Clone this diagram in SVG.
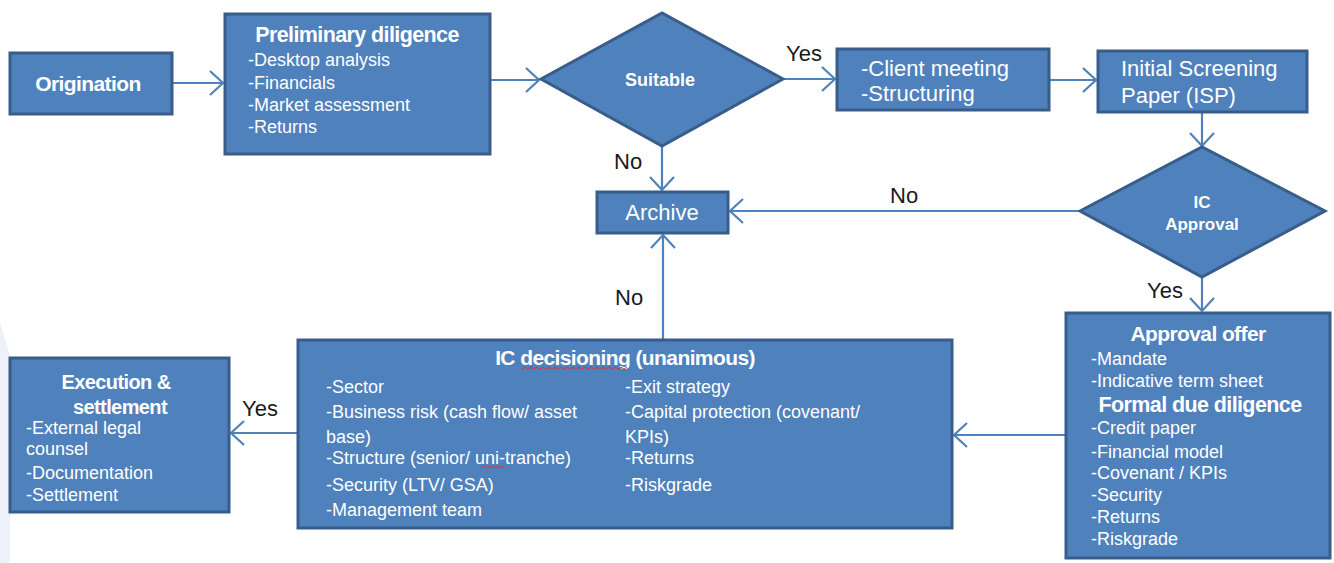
<svg xmlns="http://www.w3.org/2000/svg" width="1334" height="563" viewBox="0 0 1334 563">
<defs>
<style>
.box{fill:#4f81bd;stroke:#385d8a;stroke-width:3}
.t{font-family:"Liberation Sans",Arial,sans-serif;fill:#ffffff}
.h{font-weight:bold;letter-spacing:-0.6px}
.i{font-size:18px}
.lab{font-family:"Liberation Sans",Arial,sans-serif;font-size:22px;fill:#1a1a1a}
.c{fill:none;stroke:#4f81bd;stroke-width:2.2}
.sq{fill:none;stroke:#e03030;stroke-width:1}
</style>
<marker id="ah" markerUnits="userSpaceOnUse" markerWidth="18" markerHeight="28" refX="15" refY="14" orient="auto">
<path d="M2,2 L15,14 L2,26" fill="none" stroke="#4f81bd" stroke-width="2.2"/>
</marker>
</defs>
<rect width="1334" height="563" fill="#ffffff"/>
<polygon points="0,322 10,356 10,563 0,563" fill="#eef1f9"/>

<g id="connectors">
<line class="c" x1="172" y1="83" x2="223" y2="83" marker-end="url(#ah)"/>
<line class="c" x1="490" y1="80" x2="539" y2="80" marker-end="url(#ah)"/>
<line class="c" x1="783" y1="79" x2="835" y2="79" marker-end="url(#ah)"/>
<line class="c" x1="1049" y1="80" x2="1096" y2="80" marker-end="url(#ah)"/>
<line class="c" x1="1202" y1="112" x2="1202" y2="146" marker-end="url(#ah)"/>
<line class="c" x1="662" y1="146" x2="662" y2="190" marker-end="url(#ah)"/>
<line class="c" x1="1080" y1="211" x2="730" y2="211" marker-end="url(#ah)"/>
<line class="c" x1="1202" y1="277" x2="1202" y2="311" marker-end="url(#ah)"/>
<line class="c" x1="1066" y1="435" x2="954" y2="435" marker-end="url(#ah)"/>
<line class="c" x1="663" y1="340" x2="663" y2="235" marker-end="url(#ah)"/>
<line class="c" x1="298" y1="433" x2="231" y2="433" marker-end="url(#ah)"/>
<text class="lab" x="786" y="61">Yes</text>
<text class="lab" x="614" y="169">No</text>
<text class="lab" x="890" y="203">No</text>
<text class="lab" x="1147" y="298">Yes</text>
<text class="lab" x="615" y="305">No</text>
<text class="lab" x="242" y="416">Yes</text>
</g>

<g id="origination">
<rect class="box" x="10" y="53" width="162" height="61"/>
<text class="t h" x="88" y="91" font-size="21" text-anchor="middle">Origination</text>
</g>

<g id="preliminary">
<rect class="box" x="225" y="14" width="265" height="140"/>
<text class="t h" x="357" y="42" font-size="21.5" text-anchor="middle">Preliminary diligence</text>
<text class="t i" x="248" y="66">-Desktop analysis</text>
<text class="t i" x="248" y="89">-Financials</text>
<text class="t i" x="248" y="111">-Market assessment</text>
<text class="t i" x="248" y="133">-Returns</text>
</g>

<g id="suitable">
<polygon class="box" points="541,79 662,13 783,79 662,146"/>
<text class="t" x="660" y="86" font-size="18" font-weight="bold" text-anchor="middle">Suitable</text>
</g>

<g id="client">
<rect class="box" x="837" y="49" width="212" height="61"/>
<text class="t" x="861" y="76" font-size="22">-Client meeting</text>
<text class="t" x="861" y="101" font-size="22">-Structuring</text>
</g>

<g id="isp">
<rect class="box" x="1098" y="51" width="209" height="61"/>
<text class="t" x="1121" y="76" font-size="22">Initial Screening</text>
<text class="t" x="1121" y="103" font-size="22">Paper (ISP)</text>
</g>

<g id="ic-approval">
<polygon class="box" points="1080,211 1202,147 1325,211 1202,277"/>
<text class="t" x="1202" y="208" font-size="17" font-weight="bold" text-anchor="middle">IC</text>
<text class="t" x="1202" y="230" font-size="17" font-weight="bold" text-anchor="middle">Approval</text>
</g>

<g id="archive">
<rect class="box" x="597" y="192" width="131" height="41"/>
<text class="t" x="662" y="220" font-size="22" text-anchor="middle">Archive</text>
</g>

<g id="approval-offer">
<rect class="box" x="1066" y="313" width="264" height="245"/>
<text class="t h" x="1198" y="341" font-size="21" text-anchor="middle">Approval offer</text>
<text class="t i" x="1091" y="365">-Mandate</text>
<text class="t i" x="1091" y="387">-Indicative term sheet</text>
<text class="t h" x="1200" y="412" font-size="21.5" text-anchor="middle">Formal due diligence</text>
<text class="t i" x="1091" y="434">-Credit paper</text>
<text class="t i" x="1091" y="458">-Financial model</text>
<text class="t i" x="1091" y="479">-Covenant / KPIs</text>
<text class="t i" x="1091" y="501">-Security</text>
<text class="t i" x="1091" y="523">-Returns</text>
<text class="t i" x="1091" y="545">-Riskgrade</text>
</g>

<g id="ic-decisioning">
<rect class="box" x="298" y="340" width="654" height="188"/>
<text class="t h" x="625" y="365" font-size="21" text-anchor="middle">IC decisioning (unanimous)</text>
<path class="sq" d="M522,369 l3,-2 l3,2 l3,-2 l3,2 l3,-2 l3,2 l3,-2 l3,2 l3,-2 l3,2 l3,-2 l3,2 l3,-2 l3,2 l3,-2 l3,2 l3,-2 l3,2 l3,-2 l3,2 l3,-2 l3,2 l3,-2 l3,2 l3,-2 l3,2 l3,-2 l3,2 l3,-2 l3,2 l3,-2 l3,2 l3,-2 l3,2 l3,-2"/>
<text class="t i" x="326" y="393">-Sector</text>
<text class="t i" x="326" y="418">-Business risk (cash flow/ asset</text>
<text class="t i" x="326" y="443">base)</text>
<text class="t i" x="326" y="464">-Structure (senior/ uni-tranche)</text>
<path class="sq" d="M481,468 l3,-2 l3,2 l3,-2 l3,2 l3,-2 l3,2 l3,-2 l3,2"/>
<text class="t i" x="326" y="491">-Security (LTV/ GSA)</text>
<text class="t i" x="326" y="516">-Management team</text>
<text class="t i" x="625" y="393">-Exit strategy</text>
<text class="t i" x="625" y="418">-Capital protection (covenant/</text>
<text class="t i" x="625" y="443">KPIs)</text>
<text class="t i" x="625" y="464">-Returns</text>
<text class="t i" x="625" y="491">-Riskgrade</text>
</g>

<g id="execution">
<rect class="box" x="10" y="358" width="219" height="154"/>
<text class="t h" x="116" y="389" font-size="20" text-anchor="middle">Execution &amp;</text>
<text class="t h" x="120" y="414" font-size="20" text-anchor="middle">settlement</text>
<text class="t i" x="26" y="434">-External legal</text>
<text class="t i" x="26" y="455">counsel</text>
<text class="t i" x="26" y="479">-Documentation</text>
<text class="t i" x="26" y="501">-Settlement</text>
</g>
</svg>
